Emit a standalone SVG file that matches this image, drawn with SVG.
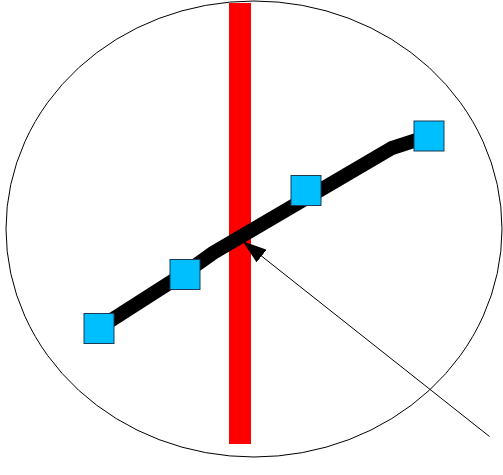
<svg xmlns="http://www.w3.org/2000/svg" width="503" height="475" viewBox="0 0 503 475">
  <style>
    .node { fill: #00bfff; stroke: #1c3a58; stroke-width: 1; }
    .track { fill: none; stroke: #000; stroke-width: 14; stroke-linejoin: miter; }
    .pointer { fill: none; stroke: #000; stroke-width: 1; }
  </style>
  <defs>
    <marker id="arrow" markerUnits="userSpaceOnUse" viewBox="0 0 24 16" markerWidth="24" markerHeight="16" refX="23" refY="8" orient="auto">
      <path d="M0,0 L24,8 L0,16 Z" fill="#000"/>
    </marker>
  </defs>
  <g id="boundary">
    <ellipse cx="254" cy="229" rx="248" ry="228" fill="none" stroke="#000" stroke-width="1"/>
  </g>
  <g id="bar">
    <rect x="229" y="3" width="22" height="441" fill="#ff0000"/>
  </g>
  <g id="connectors">
    <polyline class="track" points="99,328 185,273 213,253 392,148 429,136"/>
    <line class="pointer" x1="489.5" y1="436.5" x2="243.5" y2="241.8" marker-end="url(#arrow)"/>
  </g>
  <g id="node1"><rect class="node" x="84" y="313.5" width="30" height="30"/></g>
  <g id="node2"><rect class="node" x="170" y="259.5" width="30" height="30"/></g>
  <g id="node3"><rect class="node" x="291" y="175.5" width="30" height="30"/></g>
  <g id="node4"><rect class="node" x="414" y="121" width="30" height="30"/></g>
</svg>
